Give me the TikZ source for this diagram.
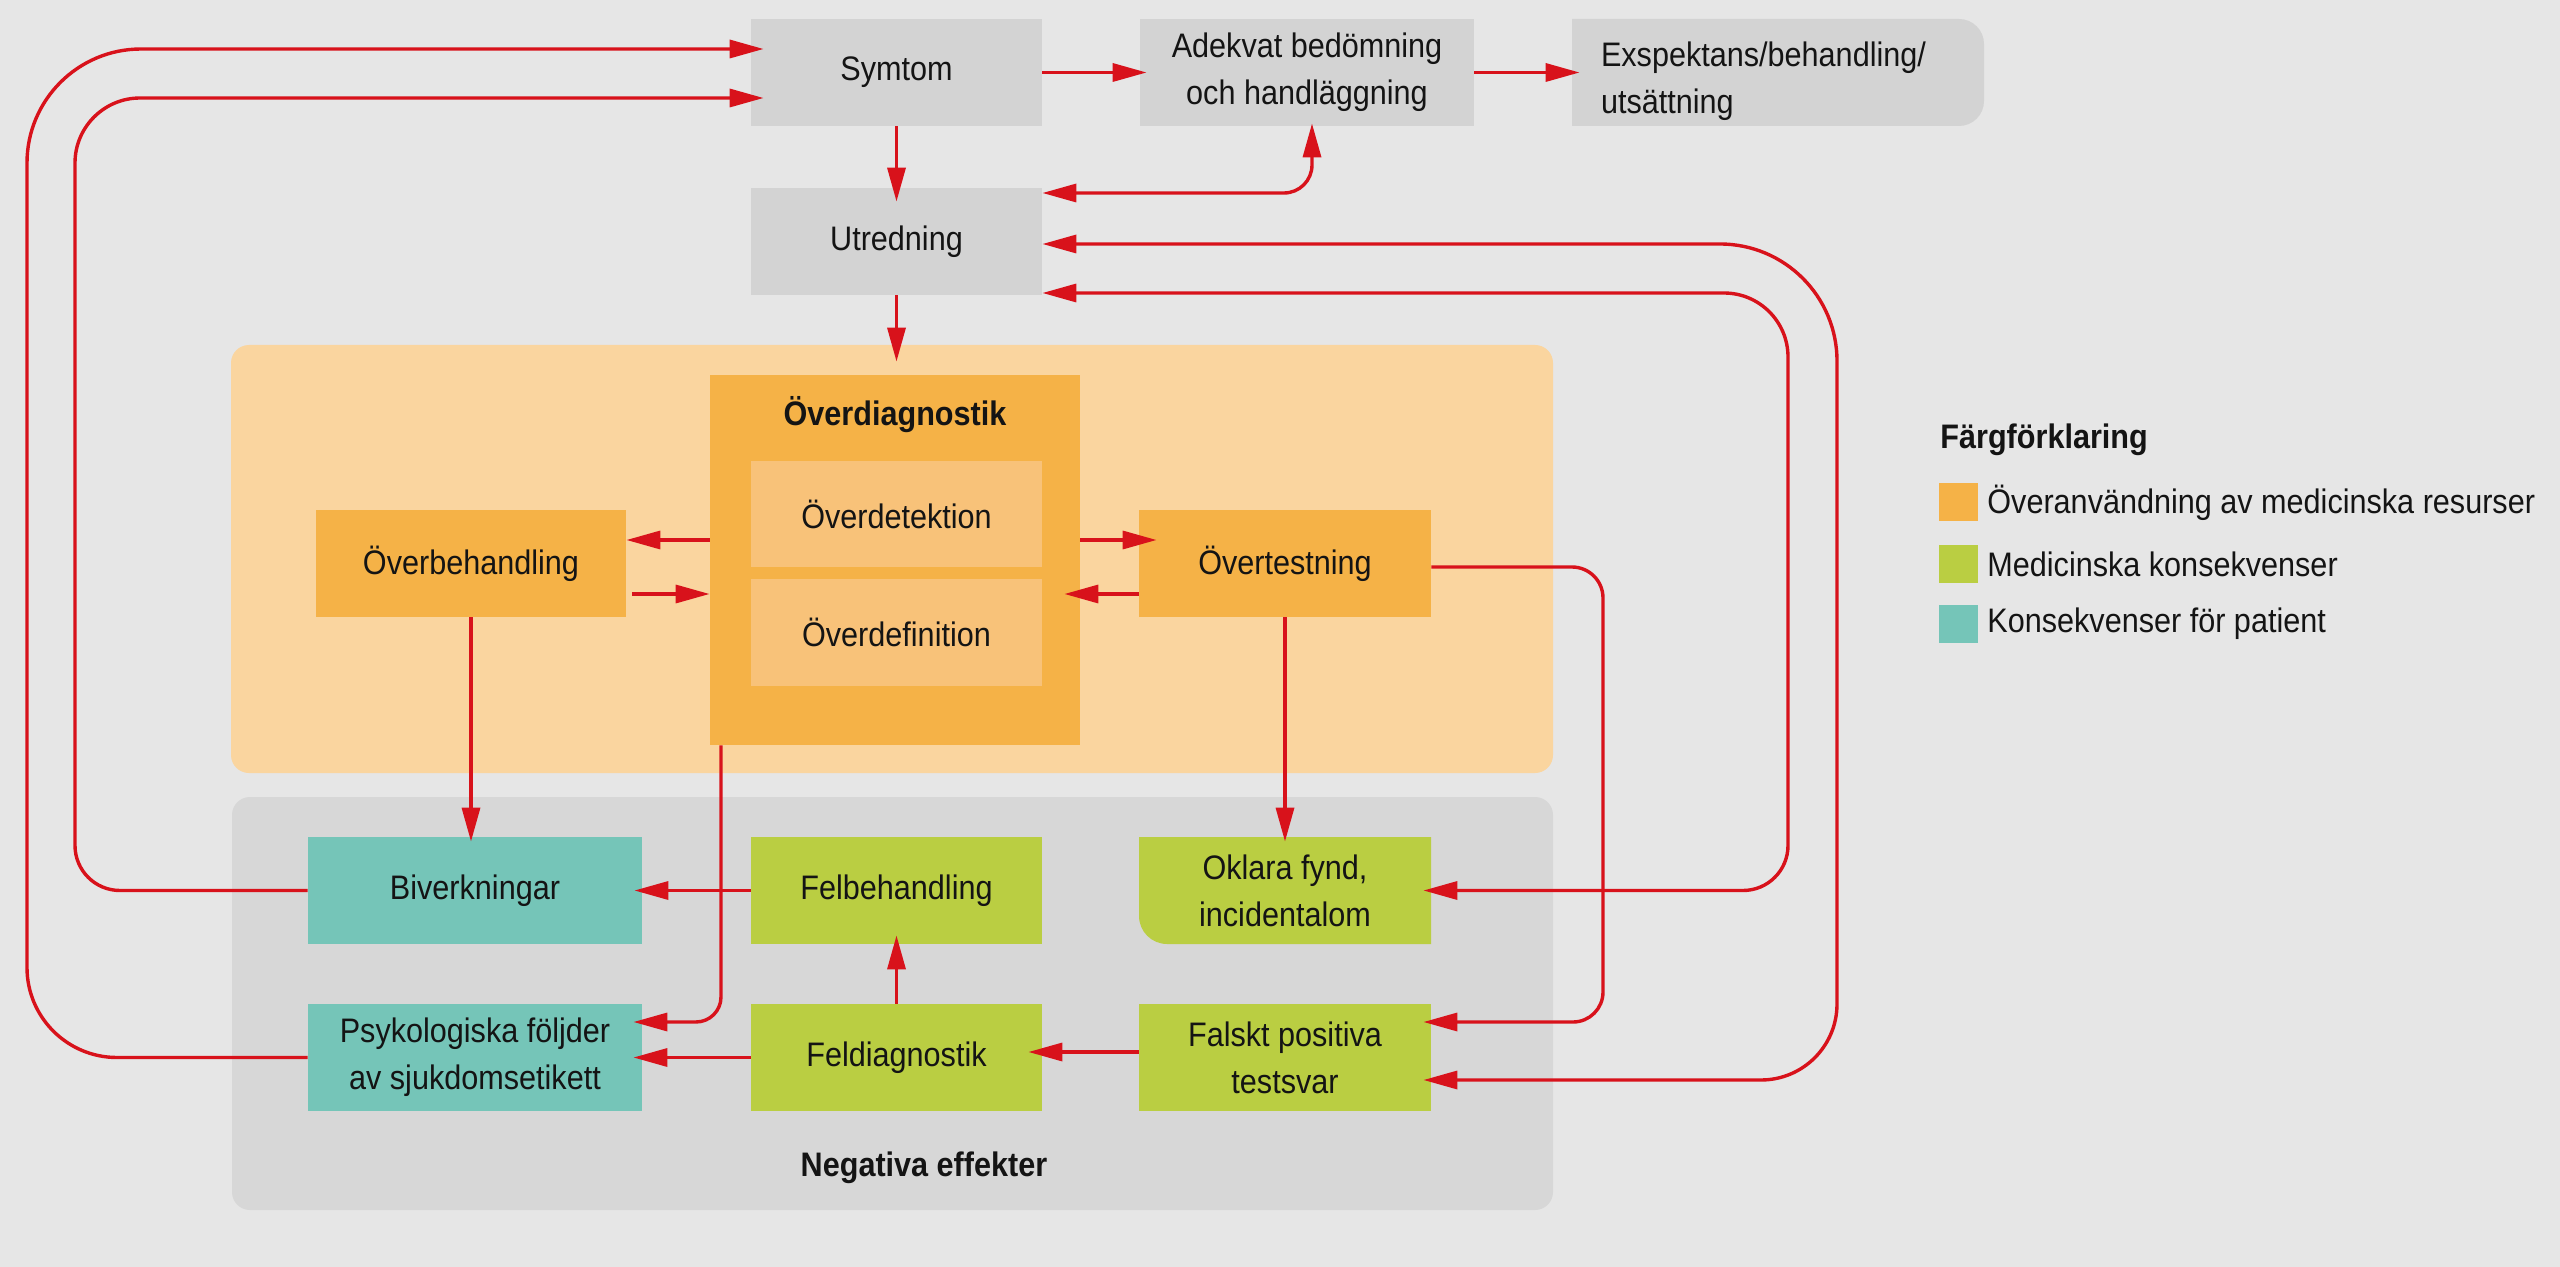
\documentclass[tikz,border=0pt]{standalone}
\usepackage{fontspec}
\setmainfont{Liberation Sans}[FakeStretch=0.9]
\usetikzlibrary{arrows.meta}
\definecolor{bgc}{HTML}{E6E6E6}
\definecolor{boxg}{HTML}{D3D3D3}
\definecolor{regg}{HTML}{D7D7D7}
\definecolor{rego}{HTML}{FAD59F}
\definecolor{boxo}{HTML}{F5B247}
\definecolor{boxi}{HTML}{F8C279}
\definecolor{boxgr}{HTML}{BACE42}
\definecolor{boxt}{HTML}{75C5B8}
\definecolor{redc}{HTML}{D8121B}
\definecolor{txt}{HTML}{141414}
\newcommand\dfont{\fontsize{17pt}{23.5pt}\selectfont}
\newcommand\mkbox[7]{\node[bx,#6,minimum width={(#4-#2)*0.5pt},minimum height={(#5-#3)*0.5pt}] (#1) at ({(#2+#4)/2},{(#3+#5)/2}) {#7};}
\begin{document}
\begin{tikzpicture}[x=0.5pt,y=-0.5pt,
  bx/.style={inner sep=0pt, align=center, font=\dfont, text=txt},
  lbl/.style={inner sep=0pt, font=\dfont, text=txt},
  tipA/.tip={Triangle[length=17pt,width=9pt]},
  arr/.style={draw=redc, line width=1.7pt, -tipA, shorten >=-4pt},
  arrb/.style={draw=redc, line width=1.7pt, tipA-tipA, shorten >=-4pt, shorten <=-4pt}]
\fill[bgc] (0,0) rectangle (2560,1267);
\useasboundingbox (0,0) rectangle (2560,1267);
% regions
\fill[rego, rounded corners=9pt] (231,345) rectangle (1553,773);
\fill[regg, rounded corners=9pt] (232,797) rectangle (1553,1210);
% special shapes
\fill[boxg] (1572,19) -- (1959,19) arc[start angle=90,end angle=0,radius=12.5pt] -- (1984,101) arc[start angle=0,end angle=-90,radius=12.5pt] -- (1572,126) -- cycle;
\fill[boxgr] (1139,837) -- (1431,837) -- (1431,944) -- (1167,944) arc[start angle=-90,end angle=-180,radius=14pt] -- cycle;
% boxes
\mkbox{symtom}{751}{19}{1042}{126}{fill=boxg}{Symtom}
\mkbox{adekvat}{1140}{19}{1474}{126}{fill=boxg}{Adekvat bedömning\\och handläggning}
\node[bx, align=left, text width=177pt, inner xsep=14.5pt, minimum height=53.5pt] (exsp) at (1778,81) {Exspektans/behandling/\\utsättning};
\mkbox{utredning}{751}{188}{1042}{295}{fill=boxg}{Utredning}
\mkbox{overdiag}{710}{375}{1080}{745}{fill=boxo}{}
\node[lbl, font=\dfont\bfseries] (odtitle) at (895,415) {Överdiagnostik};
\mkbox{overdet}{751}{461}{1042}{567}{fill=boxi}{Överdetektion}
\mkbox{overdef}{751}{579}{1042}{686}{fill=boxi}{Överdefinition}
\mkbox{overbeh}{316}{510}{626}{617}{fill=boxo}{Överbehandling}
\mkbox{overtest}{1139}{510}{1431}{617}{fill=boxo}{Övertestning}
\mkbox{biverk}{308}{837}{642}{944}{fill=boxt}{Biverkningar}
\mkbox{felbeh}{751}{837}{1042}{944}{fill=boxgr}{Felbehandling}
\mkbox{oklara}{1139}{837}{1431}{944}{}{Oklara fynd,\\incidentalom}
\mkbox{psyk}{308}{1004}{642}{1111}{fill=boxt}{Psykologiska följder\\av sjukdomsetikett}
\mkbox{feldiag}{751}{1004}{1042}{1111}{fill=boxgr}{Feldiagnostik}
\mkbox{falskt}{1139}{1004}{1431}{1111}{fill=boxgr}{Falskt positiva\\testsvar}
\node[lbl, font=\dfont\bfseries] (neg) at (924,1168) {Negativa effekter};
% legend
\node[lbl, anchor=west, font=\dfont\bfseries] (legt) at (1940,440) {Färgförklaring};
\mkbox{swa}{1939}{483}{1978}{521}{fill=boxo}{}
\mkbox{swb}{1939}{545}{1978}{583}{fill=boxgr}{}
\mkbox{swc}{1939}{605}{1978}{643}{fill=boxt}{}
\node[lbl, anchor=west] (la) at (1987,503) {Överanvändning av medicinska resurser};
\node[lbl, anchor=west] (lb) at (1987,564) {Medicinska konsekvenser};
\node[lbl, anchor=west] (lc) at (1987,624) {Konsekvenser för patient};
% connectors
\draw[arr, shorten >=-6.5pt] (psyk.west) -- (117,1057.5) arc[start angle=-90,end angle=-180,radius=45pt] -- (27,163) arc[start angle=180,end angle=90,radius=57pt] -- (symtom.west |- 0,49);
\draw[arr, shorten >=-6.5pt] (biverk.west) -- (120,890.5) arc[start angle=-90,end angle=-180,radius=22.5pt] -- (75,163) arc[start angle=180,end angle=90,radius=32.5pt] -- (symtom.west |- 0,98);
\draw[arr, shorten >=-3.5pt] (symtom) -- (adekvat);
\draw[arr] (adekvat.east) -- (exsp.west |- adekvat.east);
\draw[arr, shorten >=-7pt] (symtom.south) -- (symtom.south |- utredning.north);
\draw[arrb, shorten <=0pt, shorten >=-1.5pt] (utredning.east |- 0,193) -- (1284,193) arc[start angle=-90,end angle=0,radius=14pt] -- (adekvat.south -| 1312,0);
\draw[arr, shorten >=6.5pt] (utredning.south) -- (utredning.south |- overdiag.north);
\draw[arrb, shorten <=0pt] (utredning.east |- 0,244) -- (1720,244) arc[start angle=90,end angle=0,radius=58.5pt] -- (1837,1004) arc[start angle=0,end angle=-90,radius=38pt] -- (falskt.east |- 0,1080);
\draw[arrb, shorten <=0pt] (utredning.east |- 0,293) -- (1724,293) arc[start angle=90,end angle=0,radius=32pt] -- (1788,845.5) arc[start angle=0,end angle=-90,radius=22.5pt] -- (oklara.east |- 0,890.5);
\draw[arr] (overtest.east |- 0,567) -- (1572,567) arc[start angle=90,end angle=0,radius=15.5pt] -- (1603,992) arc[start angle=0,end angle=-90,radius=15pt] -- (falskt.east |- 0,1022);
\draw[arr, shorten >=0pt] (overdiag.west |- 0,540) -- (overbeh.east |- 0,540);
\draw[arr, shorten >=0pt, shorten <=3pt] (overbeh.east |- 0,594) -- (overdiag.west |- 0,594);
\draw[arr, shorten >=-9pt] (overdiag.east |- 0,540) -- (overtest.west |- 0,540);
\draw[arr, shorten >=-8pt] (overtest.west |- 0,594) -- (overdiag.east |- 0,594);
\draw[arr, shorten >=-2.5pt] (overbeh.south) -- (overbeh.south |- biverk.north);
\draw[arr, shorten >=-2.5pt] (overtest.south) -- (overtest.south |- oklara.north);
\draw[arr] (felbeh) -- (biverk);
\draw[arr, shorten >=-4.5pt] (feldiag.north) -- (felbeh.south);
\draw[arr, shorten >=-4.5pt] (feldiag) -- (psyk);
\draw[arr, shorten >=-7pt] (falskt.west |- 0,1052) -- (feldiag.east |- 0,1052);
\draw[arr, shorten >=-4.5pt] (overdiag.south -| 721,0) -- (721,997) arc[start angle=0,end angle=-90,radius=12.5pt] -- (psyk.east |- 0,1022);
\end{tikzpicture}
\end{document}
